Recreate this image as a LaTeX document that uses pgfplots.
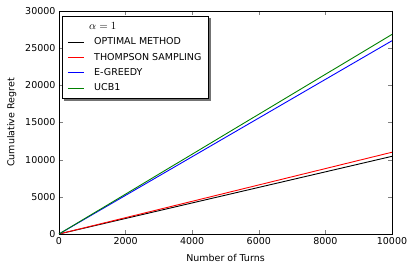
\documentclass[border=0pt]{standalone}
\usepackage{pgfplots}
\pgfplotsset{compat=1.18}
\usepackage{fontspec}
\setmainfont{DejaVu Sans}
\usetikzlibrary{backgrounds}
\begin{document}
\begin{tikzpicture}
\begin{axis}[
  at={(0,0)}, anchor=south west,
  scale only axis, width=333pt, height=223pt,
  xmin=0, xmax=10000, ymin=0, ymax=30000,
  xtick={0,2000,...,10000}, ytick={0,5000,...,30000},
  scaled ticks=false,
  /pgf/number format/assume math mode=true,
  /pgf/number format/set thousands separator={},
  tick align=inside, tick pos=both,
  major tick length=4pt,
  tick label style={font=\fontsize{9.5}{11}\selectfont},
  label style={font=\fontsize{9.5}{11}\selectfont},
  xlabel={Number of Turns}, ylabel={Cumulative Regret},
  xlabel style={yshift=-3pt},
  ylabel style={yshift=2pt},
  axis line style={line width=0.8pt},
  legend cell align=left,
  legend style={name=leg, font=\fontsize{9.5}{11}\selectfont, at={([xshift=3pt,yshift=-5pt]rel axis cs:0,1)}, anchor=north west,
    draw=black, line width=0.8pt, fill=white, inner xsep=5pt, inner ysep=4pt, row sep=2.8pt,
    /tikz/every odd column/.append style={column sep=8pt}},
  legend image code/.code={\draw[#1, line width=0.8pt] (0pt,0pt) -- (16pt,0pt);},
]
\addlegendimage{empty legend}
\addlegendentry{\hspace{-5pt}\fontsize{10.5}{11}\selectfont$\alpha=1$}
\addplot[black, line width=0.9pt] coordinates {(0,0) (10000,10450)};
\addlegendentry{OPTIMAL METHOD}
\addplot[red, line width=0.9pt] coordinates {(0,0) (10000,11000)};
\addlegendentry{THOMPSON SAMPLING}
\addplot[blue, line width=0.9pt] coordinates {(0,0) (10000,26000)};
\addlegendentry{E-GREEDY}
\addplot[green!50!black, line width=0.9pt] coordinates {(0,0) (10000,26850)};
\addlegendentry{UCB1}
\end{axis}
\begin{scope}[on background layer]
\fill[black!55] ([shift={(2.5pt,-2.5pt)}]leg.south west) rectangle ([shift={(2.5pt,-2.5pt)}]leg.north east);
\end{scope}
\path (-59pt,-37pt) rectangle (357pt,234pt);
\end{tikzpicture}
\end{document}
